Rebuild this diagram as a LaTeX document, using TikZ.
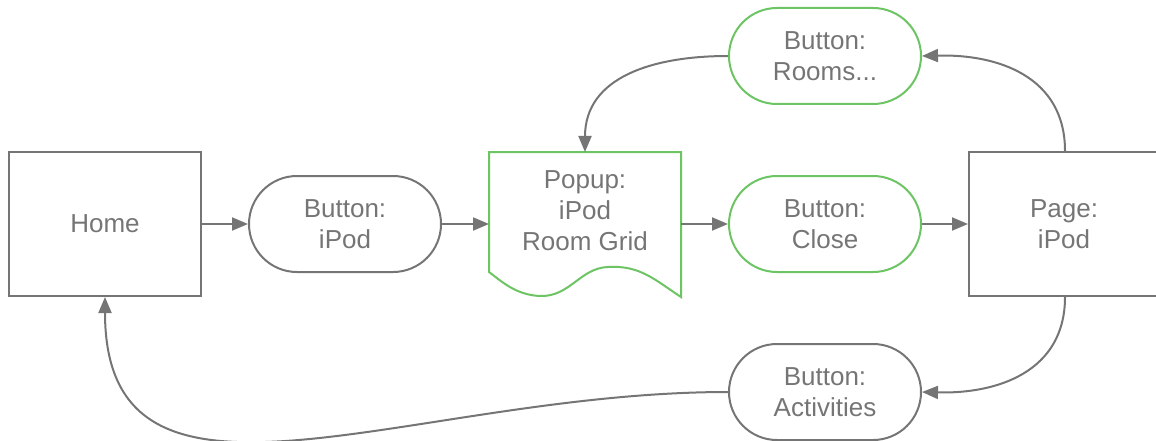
\documentclass[tikz,border=0pt]{standalone}
\usepackage{fontspec}
\setmainfont{Liberation Sans}
\usetikzlibrary{arrows.meta,shapes.misc}
\definecolor{linegray}{RGB}{117,117,117}
\definecolor{okgreen}{RGB}{108,196,98}
\begin{document}
\begin{tikzpicture}[x=1pt,y=-1pt,
  every node/.style={font=\fontsize{26}{31}\selectfont, text=linegray, align=center, inner sep=0pt},
  pagebox/.style={draw=linegray, line width=2pt, minimum width=192pt, minimum height=144pt},
  btn/.style={draw=#1, line width=2pt, rounded rectangle, minimum width=192pt, minimum height=96pt},
  btn/.default=linegray,
  conn/.style={draw=linegray, line width=2pt, -{Triangle[length=16pt,width=13pt]}},
]
\useasboundingbox (0,0) rectangle (1156,441);
\node[pagebox] (home) at (105,224) {Home};
\node[btn] (bipod) at (345,224) {Button:\\iPod};
% popup document shape
\draw[draw=okgreen, line width=2pt]
  (489,152) -- (681,152) -- (681,297)
  .. controls (655,280) and (640,265) .. (608,267)
  .. controls (580,268) and (570,297) .. (540,296)
  .. controls (515,295) and (500,280) .. (489,272) -- cycle;
\node (popup) at (585,211) {Popup:\\iPod\\Room Grid};
\coordinate (popupw) at (489,224);
\coordinate (popupe) at (681,224);
\coordinate (popupn) at (585,152);
\node[btn=okgreen] (close) at (825,224) {Button:\\Close};
\node[pagebox] (page) at (1065,224) {};
\node (pagetext) at (1064,224) {Page:\\iPod};
\node[btn=okgreen] (rooms) at (825,56) {Button:\\Rooms...};
\node[btn] (acts) at (825,392) {Button:\\Activities};

\draw[conn] (home.east) -- (bipod.west);
\draw[conn] (bipod.east) -- (popupw);
\draw[conn] (popupe) -- (close.west);
\draw[conn] (close.east) -- (page.west);
\draw[conn] (page.north) .. controls +(0,-75) and +(75,-2) .. (rooms.east);
\draw[conn] (rooms.west) .. controls +(-75,0) and +(0,-75) .. (popupn);
\draw[conn] (page.south) .. controls +(0,75) and +(75,2) .. (acts.east);
\draw[conn] (acts.west) .. controls +(-320,0) and +(0,250) .. (home.south);
\end{tikzpicture}
\end{document}
